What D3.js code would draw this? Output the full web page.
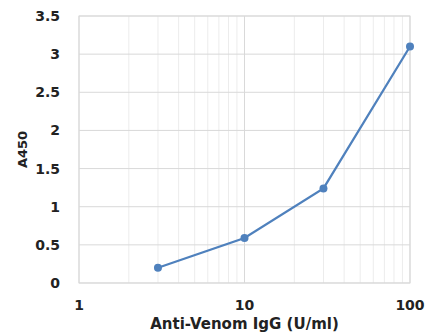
<!DOCTYPE html>
<html>
<head>
<meta charset="utf-8">
<script src="https://cdn.jsdelivr.net/npm/d3@7"></script>
<style>
  body { margin: 0; background: #fff; }
  text { font-family: "DejaVu Sans", Verdana, sans-serif; }
</style>
</head>
<body>
<div id="chart"></div>
<script>
// data
var doses = [3, 10, 30, 100];
var absorbance = [0.2, 0.59, 1.24, 3.1];
var yTicks = [0, 0.5, 1, 1.5, 2, 2.5, 3, 3.5];
var xTicks = [1, 10, 100];

var W = 425, H = 335;
var margin = { top: 16, right: 15, bottom: 52, left: 79 };
var width = W - margin.left - margin.right;
var height = H - margin.top - margin.bottom;

var svg = d3.select("#chart").append("svg")
    .attr("width", W)
    .attr("height", H);

var g = svg.append("g")
    .attr("transform", "translate(" + margin.left + "," + margin.top + ")");

var x = d3.scaleLog().domain([1, 100]).range([0, width]);
var y = d3.scaleLinear().domain([0, 3.5]).range([height, 0]);

// minor vertical grid
var minor = [];
[1, 10].forEach(function(dec) {
    for (var k = 2; k <= 9; k++) minor.push(dec * k);
});
g.selectAll(".minor").data(minor).enter().append("line")
    .attr("x1", d => x(d)).attr("x2", d => x(d))
    .attr("y1", 0).attr("y2", height)
    .attr("stroke", "#ececec").attr("stroke-width", 1);

// major grid
g.selectAll(".vmajor").data(xTicks).enter().append("line")
    .attr("x1", d => x(d)).attr("x2", d => x(d))
    .attr("y1", 0).attr("y2", height)
    .attr("stroke", "#d9d9d9").attr("stroke-width", 1);

g.selectAll(".hmajor").data(yTicks).enter().append("line")
    .attr("x1", 0).attr("x2", width)
    .attr("y1", d => y(d)).attr("y2", d => y(d))
    .attr("stroke", "#d9d9d9").attr("stroke-width", 1);

// plot border
g.append("rect")
    .attr("width", width).attr("height", height)
    .attr("fill", "none").attr("stroke", "#d9d9d9");

// tick labels
g.selectAll(".ylab").data(yTicks).enter().append("text")
    .attr("x", -19).attr("y", d => y(d) + 5)
    .attr("text-anchor", "end")
    .style("font-size", "14px").style("font-weight", "bold")
    .attr("fill", "#222")
    .text(d => d);

g.selectAll(".xlab").data(xTicks).enter().append("text")
    .attr("x", d => x(d)).attr("y", height + 27)
    .attr("text-anchor", "middle")
    .style("font-size", "14px").style("font-weight", "bold")
    .attr("fill", "#222")
    .text(d => d);

// axis titles
svg.append("text")
    .attr("x", margin.left + width / 2 + 0).attr("y", 329)
    .attr("text-anchor", "middle")
    .style("font-size", "15px").style("font-weight", "bold")
    .attr("fill", "#222")
    .text("Anti-Venom IgG (U/ml)");

svg.append("text")
    .attr("transform", "translate(27," + (margin.top + height / 2) + ") rotate(-90)")
    .attr("text-anchor", "middle")
    .style("font-size", "13px").style("font-weight", "bold")
    .attr("fill", "#222")
    .text("A450");

// series
var pts = doses.map((d, i) => [d, absorbance[i]]);
var line = d3.line().x(d => x(d[0])).y(d => y(d[1]));

g.append("path").datum(pts)
    .attr("d", line)
    .attr("fill", "none")
    .attr("stroke", "#4f81bd")
    .attr("stroke-width", 2.25);

g.selectAll(".pt").data(pts).enter().append("circle")
    .attr("cx", d => x(d[0])).attr("cy", d => y(d[1]))
    .attr("r", 4)
    .attr("fill", "#4f81bd");
</script>
</body>
</html>
